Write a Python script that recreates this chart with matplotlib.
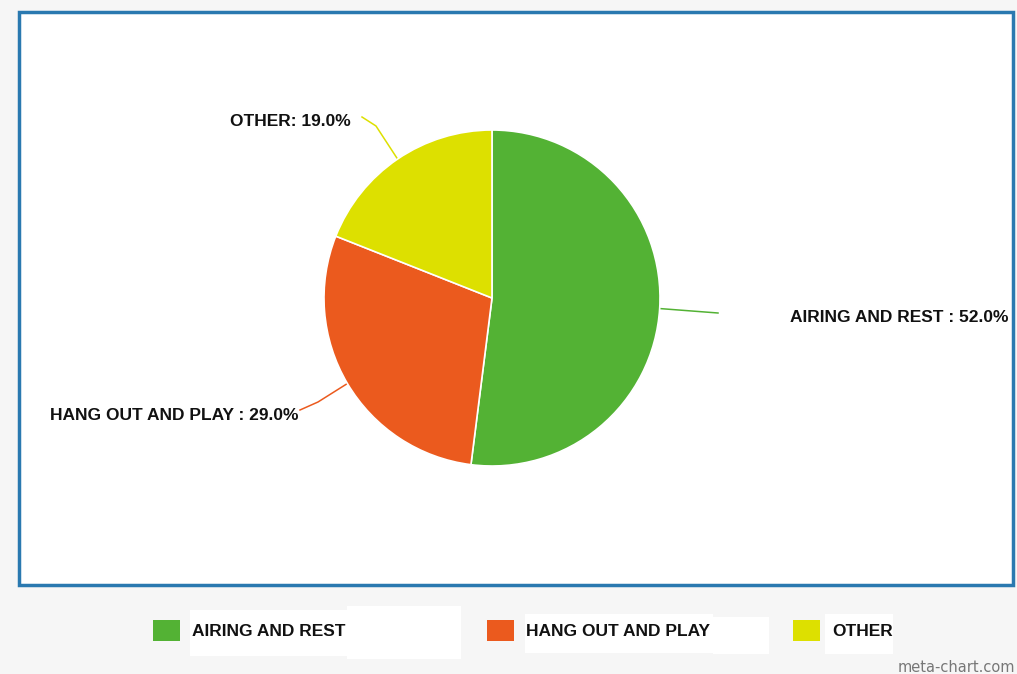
import matplotlib.pyplot as plt
import numpy as np
from matplotlib.patches import Rectangle

# data
labels = ['AIRING AND REST', 'HANG OUT AND PLAY', 'OTHER']
values = [52.0, 29.0, 19.0]
colors = ['#53b234', '#eb5a1e', '#dde000']

W, H = 1017, 674
fig = plt.figure(figsize=(W / 100, H / 100), dpi=100)
fig.patch.set_facecolor('#f6f6f6')
ax = fig.add_axes([0, 0, 1, 1])
ax.set_xlim(0, W)
ax.set_ylim(0, H)
ax.axis('off')

def py(y):
    # pixel row -> data y
    return H - y

# white chart panel with blue border
panel = Rectangle((19, py(585)), 994, 573, facecolor='white',
                  edgecolor='#2a79b0', linewidth=2.5, zorder=1)
ax.add_patch(panel)

cx, cy, r = 492, py(298), 168
wedges, _ = ax.pie(values, colors=colors, startangle=90, counterclock=False,
                   center=(cx, cy), radius=r, frame=True,
                   wedgeprops=dict(edgecolor='white', linewidth=1.2))
for w in wedges:
    w.set_zorder(3)
ax.set_xlim(0, W)
ax.set_ylim(0, H)
ax.set_aspect('equal')
ax.axis('off')

# leader lines + labels (positions in pixels)
leader_ends = [[(718, 313)], [(318, 402), (300, 410)], [(376, 126), (362, 117)]]
text_pos = [(1008, 317, 'right'), (298, 415, 'right'), (351, 122, 'right')]
for w, v, lab, col, pts, (tx, ty, ha) in zip(wedges, values, labels, colors,
                                              leader_ends, text_pos):
    ang = np.deg2rad((w.theta1 + w.theta2) / 2)
    sx, sy = cx + r * np.cos(ang), cy + r * np.sin(ang)
    xs = [sx] + [p[0] for p in pts]
    ys = [sy] + [py(p[1]) for p in pts]
    ax.plot(xs, ys, color=col, linewidth=1.1, zorder=2)
    sep = ': ' if lab == 'OTHER' else ' : '
    ax.text(tx, py(ty), f'{lab}{sep}{v:.1f}%', ha=ha, va='center',
            fontsize=12.5, fontweight='bold', family='Liberation Sans',
            color='#111111', zorder=4)

# legend row (with the white patches seen behind the text)
for x0, y0, w_, h_ in [(190, 610, 160, 46), (347, 606, 114, 53),
                       (525, 614, 188, 39), (713, 617, 56, 37),
                       (825, 614, 68, 40)]:
    ax.add_patch(Rectangle((x0, py(y0 + h_)), w_, h_, facecolor='white',
                           edgecolor='none', zorder=1))
leg_x = [153, 487, 793]
for x0, lab, col in zip(leg_x, labels, colors):
    ax.add_patch(Rectangle((x0, py(641)), 27, 21, facecolor=col,
                           edgecolor='none', zorder=2))
    ax.text(x0 + 39, py(631), lab, ha='left', va='center', fontsize=12.5,
            fontweight='bold', family='Liberation Sans', color='#111111',
            zorder=3)

ax.text(1015, py(667), 'meta-chart.com', ha='right', va='center',
        fontsize=10.5, color='#777777', family='DejaVu Sans')

fig.savefig('out.png', dpi=100, facecolor=fig.get_facecolor())
